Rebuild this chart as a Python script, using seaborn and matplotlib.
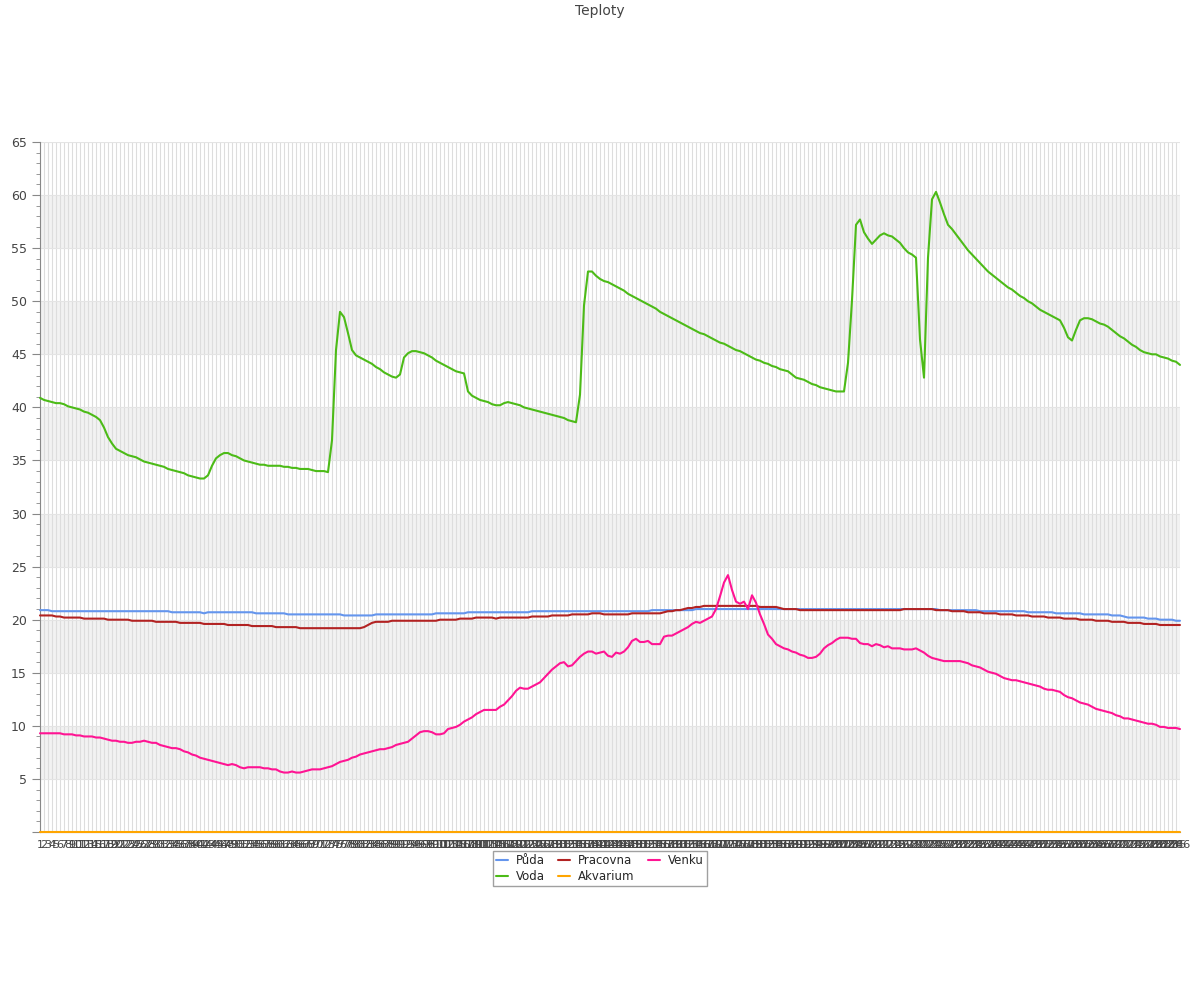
import matplotlib
matplotlib.use("Agg")
import matplotlib.pyplot as plt
from matplotlib.ticker import MultipleLocator
import seaborn as sns
import pandas as pd

# Teploty - hodnoty (286 mereni)
puda = [
    20.9, 20.9, 20.9, 20.8, 20.8, 20.8, 20.8, 20.8, 20.8, 20.8,
    20.8, 20.8, 20.8, 20.8, 20.8, 20.8, 20.8, 20.8, 20.8, 20.8,
    20.8, 20.8, 20.8, 20.8, 20.8, 20.8, 20.8, 20.8, 20.8, 20.8,
    20.8, 20.8, 20.8, 20.7, 20.7, 20.7, 20.7, 20.7, 20.7, 20.7,
    20.7, 20.6, 20.7, 20.7, 20.7, 20.7, 20.7, 20.7, 20.7, 20.7,
    20.7, 20.7, 20.7, 20.7, 20.6, 20.6, 20.6, 20.6, 20.6, 20.6,
    20.6, 20.6, 20.5, 20.5, 20.5, 20.5, 20.5, 20.5, 20.5, 20.5,
    20.5, 20.5, 20.5, 20.5, 20.5, 20.5, 20.4, 20.4, 20.4, 20.4,
    20.4, 20.4, 20.4, 20.4, 20.5, 20.5, 20.5, 20.5, 20.5, 20.5,
    20.5, 20.5, 20.5, 20.5, 20.5, 20.5, 20.5, 20.5, 20.5, 20.6,
    20.6, 20.6, 20.6, 20.6, 20.6, 20.6, 20.6, 20.7, 20.7, 20.7,
    20.7, 20.7, 20.7, 20.7, 20.7, 20.7, 20.7, 20.7, 20.7, 20.7,
    20.7, 20.7, 20.7, 20.8, 20.8, 20.8, 20.8, 20.8, 20.8, 20.8,
    20.8, 20.8, 20.8, 20.8, 20.8, 20.8, 20.8, 20.8, 20.8, 20.8,
    20.8, 20.8, 20.8, 20.8, 20.8, 20.8, 20.8, 20.8, 20.8, 20.8,
    20.8, 20.8, 20.8, 20.9, 20.9, 20.9, 20.9, 20.9, 20.9, 20.9,
    20.9, 20.9, 20.9, 20.9, 21.0, 21.0, 21.0, 21.0, 21.0, 21.0,
    21.0, 21.0, 21.0, 21.0, 21.0, 21.0, 21.0, 21.0, 21.0, 21.0,
    21.0, 21.0, 21.0, 21.0, 21.0, 21.0, 21.0, 21.0, 21.0, 21.0,
    21.0, 21.0, 21.0, 21.0, 21.0, 21.0, 21.0, 21.0, 21.0, 21.0,
    21.0, 21.0, 21.0, 21.0, 21.0, 21.0, 21.0, 21.0, 21.0, 21.0,
    21.0, 21.0, 21.0, 21.0, 21.0, 21.0, 21.0, 21.0, 21.0, 21.0,
    21.0, 21.0, 21.0, 21.0, 21.0, 20.9, 20.9, 20.9, 20.9, 20.9,
    20.9, 20.9, 20.9, 20.9, 20.9, 20.8, 20.8, 20.8, 20.8, 20.8,
    20.8, 20.8, 20.8, 20.8, 20.8, 20.8, 20.8, 20.7, 20.7, 20.7,
    20.7, 20.7, 20.7, 20.7, 20.6, 20.6, 20.6, 20.6, 20.6, 20.6,
    20.6, 20.5, 20.5, 20.5, 20.5, 20.5, 20.5, 20.5, 20.4, 20.4,
    20.4, 20.3, 20.2, 20.2, 20.2, 20.2, 20.2, 20.1, 20.1, 20.1,
    20.0, 20.0, 20.0, 20.0, 19.9, 19.9,
]

voda = [
    40.9, 40.7, 40.6, 40.5, 40.4, 40.4, 40.3, 40.1, 40.0, 39.9,
    39.8, 39.6, 39.5, 39.3, 39.1, 38.8, 38.1, 37.2, 36.6, 36.1,
    35.9, 35.7, 35.5, 35.4, 35.3, 35.1, 34.9, 34.8, 34.7, 34.6,
    34.5, 34.4, 34.2, 34.1, 34.0, 33.9, 33.8, 33.6, 33.5, 33.4,
    33.3, 33.3, 33.6, 34.5, 35.2, 35.5, 35.7, 35.7, 35.5, 35.4,
    35.2, 35.0, 34.9, 34.8, 34.7, 34.6, 34.6, 34.5, 34.5, 34.5,
    34.5, 34.4, 34.4, 34.3, 34.3, 34.2, 34.2, 34.2, 34.1, 34.0,
    34.0, 34.0, 33.9, 36.9, 45.4, 49.0, 48.5, 47.0, 45.4, 44.9,
    44.7, 44.5, 44.3, 44.1, 43.8, 43.6, 43.3, 43.1, 42.9, 42.8,
    43.1, 44.7, 45.1, 45.3, 45.3, 45.2, 45.1, 44.9, 44.7, 44.4,
    44.2, 44.0, 43.8, 43.6, 43.4, 43.3, 43.2, 41.5, 41.1, 40.9,
    40.7, 40.6, 40.5, 40.3, 40.2, 40.2, 40.4, 40.5, 40.4, 40.3,
    40.2, 40.0, 39.9, 39.8, 39.7, 39.6, 39.5, 39.4, 39.3, 39.2,
    39.1, 39.0, 38.8, 38.7, 38.6, 41.2, 49.6, 52.8, 52.8, 52.4,
    52.1, 51.9, 51.8, 51.6, 51.4, 51.2, 51.0, 50.7, 50.5, 50.3,
    50.1, 49.9, 49.7, 49.5, 49.3, 49.0, 48.8, 48.6, 48.4, 48.2,
    48.0, 47.8, 47.6, 47.4, 47.2, 47.0, 46.9, 46.7, 46.5, 46.3,
    46.1, 46.0, 45.8, 45.6, 45.4, 45.3, 45.1, 44.9, 44.7, 44.5,
    44.4, 44.2, 44.1, 43.9, 43.8, 43.6, 43.5, 43.4, 43.1, 42.8,
    42.7, 42.6, 42.4, 42.2, 42.1, 41.9, 41.8, 41.7, 41.6, 41.5,
    41.5, 41.5, 44.2, 50.1, 57.2, 57.7, 56.5, 55.9, 55.4, 55.8,
    56.2, 56.4, 56.2, 56.1, 55.8, 55.5, 55.0, 54.6, 54.4, 54.1,
    46.4, 42.8, 54.1, 59.6, 60.3, 59.3, 58.2, 57.2, 56.8, 56.3,
    55.8, 55.3, 54.8, 54.4, 54.0, 53.6, 53.2, 52.8, 52.5, 52.2,
    51.9, 51.6, 51.3, 51.1, 50.8, 50.5, 50.3, 50.0, 49.8, 49.5,
    49.2, 49.0, 48.8, 48.6, 48.4, 48.2, 47.5, 46.6, 46.3, 47.3,
    48.2, 48.4, 48.4, 48.3, 48.1, 47.9, 47.8, 47.6, 47.3, 47.0,
    46.7, 46.5, 46.2, 45.9, 45.7, 45.4, 45.2, 45.1, 45.0, 45.0,
    44.8, 44.7, 44.6, 44.4, 44.3, 44.0,
]

pracovna = [
    20.4, 20.4, 20.4, 20.4, 20.3, 20.3, 20.2, 20.2, 20.2, 20.2,
    20.2, 20.1, 20.1, 20.1, 20.1, 20.1, 20.1, 20.0, 20.0, 20.0,
    20.0, 20.0, 20.0, 19.9, 19.9, 19.9, 19.9, 19.9, 19.9, 19.8,
    19.8, 19.8, 19.8, 19.8, 19.8, 19.7, 19.7, 19.7, 19.7, 19.7,
    19.7, 19.6, 19.6, 19.6, 19.6, 19.6, 19.6, 19.5, 19.5, 19.5,
    19.5, 19.5, 19.5, 19.4, 19.4, 19.4, 19.4, 19.4, 19.4, 19.3,
    19.3, 19.3, 19.3, 19.3, 19.3, 19.2, 19.2, 19.2, 19.2, 19.2,
    19.2, 19.2, 19.2, 19.2, 19.2, 19.2, 19.2, 19.2, 19.2, 19.2,
    19.2, 19.3, 19.5, 19.7, 19.8, 19.8, 19.8, 19.8, 19.9, 19.9,
    19.9, 19.9, 19.9, 19.9, 19.9, 19.9, 19.9, 19.9, 19.9, 19.9,
    20.0, 20.0, 20.0, 20.0, 20.0, 20.1, 20.1, 20.1, 20.1, 20.2,
    20.2, 20.2, 20.2, 20.2, 20.1, 20.2, 20.2, 20.2, 20.2, 20.2,
    20.2, 20.2, 20.2, 20.3, 20.3, 20.3, 20.3, 20.3, 20.4, 20.4,
    20.4, 20.4, 20.4, 20.5, 20.5, 20.5, 20.5, 20.5, 20.6, 20.6,
    20.6, 20.5, 20.5, 20.5, 20.5, 20.5, 20.5, 20.5, 20.6, 20.6,
    20.6, 20.6, 20.6, 20.6, 20.6, 20.6, 20.7, 20.8, 20.8, 20.9,
    20.9, 21.0, 21.1, 21.1, 21.2, 21.2, 21.3, 21.3, 21.3, 21.3,
    21.3, 21.3, 21.3, 21.3, 21.3, 21.3, 21.3, 21.3, 21.3, 21.3,
    21.2, 21.2, 21.2, 21.2, 21.2, 21.1, 21.0, 21.0, 21.0, 21.0,
    20.9, 20.9, 20.9, 20.9, 20.9, 20.9, 20.9, 20.9, 20.9, 20.9,
    20.9, 20.9, 20.9, 20.9, 20.9, 20.9, 20.9, 20.9, 20.9, 20.9,
    20.9, 20.9, 20.9, 20.9, 20.9, 20.9, 21.0, 21.0, 21.0, 21.0,
    21.0, 21.0, 21.0, 21.0, 20.9, 20.9, 20.9, 20.9, 20.8, 20.8,
    20.8, 20.8, 20.7, 20.7, 20.7, 20.7, 20.6, 20.6, 20.6, 20.6,
    20.5, 20.5, 20.5, 20.5, 20.4, 20.4, 20.4, 20.4, 20.3, 20.3,
    20.3, 20.3, 20.2, 20.2, 20.2, 20.2, 20.1, 20.1, 20.1, 20.1,
    20.0, 20.0, 20.0, 20.0, 19.9, 19.9, 19.9, 19.9, 19.8, 19.8,
    19.8, 19.8, 19.7, 19.7, 19.7, 19.7, 19.6, 19.6, 19.6, 19.6,
    19.5, 19.5, 19.5, 19.5, 19.5, 19.5,
]

akvarium = [
    0.0, 0.0, 0.0, 0.0, 0.0, 0.0, 0.0, 0.0, 0.0, 0.0,
    0.0, 0.0, 0.0, 0.0, 0.0, 0.0, 0.0, 0.0, 0.0, 0.0,
    0.0, 0.0, 0.0, 0.0, 0.0, 0.0, 0.0, 0.0, 0.0, 0.0,
    0.0, 0.0, 0.0, 0.0, 0.0, 0.0, 0.0, 0.0, 0.0, 0.0,
    0.0, 0.0, 0.0, 0.0, 0.0, 0.0, 0.0, 0.0, 0.0, 0.0,
    0.0, 0.0, 0.0, 0.0, 0.0, 0.0, 0.0, 0.0, 0.0, 0.0,
    0.0, 0.0, 0.0, 0.0, 0.0, 0.0, 0.0, 0.0, 0.0, 0.0,
    0.0, 0.0, 0.0, 0.0, 0.0, 0.0, 0.0, 0.0, 0.0, 0.0,
    0.0, 0.0, 0.0, 0.0, 0.0, 0.0, 0.0, 0.0, 0.0, 0.0,
    0.0, 0.0, 0.0, 0.0, 0.0, 0.0, 0.0, 0.0, 0.0, 0.0,
    0.0, 0.0, 0.0, 0.0, 0.0, 0.0, 0.0, 0.0, 0.0, 0.0,
    0.0, 0.0, 0.0, 0.0, 0.0, 0.0, 0.0, 0.0, 0.0, 0.0,
    0.0, 0.0, 0.0, 0.0, 0.0, 0.0, 0.0, 0.0, 0.0, 0.0,
    0.0, 0.0, 0.0, 0.0, 0.0, 0.0, 0.0, 0.0, 0.0, 0.0,
    0.0, 0.0, 0.0, 0.0, 0.0, 0.0, 0.0, 0.0, 0.0, 0.0,
    0.0, 0.0, 0.0, 0.0, 0.0, 0.0, 0.0, 0.0, 0.0, 0.0,
    0.0, 0.0, 0.0, 0.0, 0.0, 0.0, 0.0, 0.0, 0.0, 0.0,
    0.0, 0.0, 0.0, 0.0, 0.0, 0.0, 0.0, 0.0, 0.0, 0.0,
    0.0, 0.0, 0.0, 0.0, 0.0, 0.0, 0.0, 0.0, 0.0, 0.0,
    0.0, 0.0, 0.0, 0.0, 0.0, 0.0, 0.0, 0.0, 0.0, 0.0,
    0.0, 0.0, 0.0, 0.0, 0.0, 0.0, 0.0, 0.0, 0.0, 0.0,
    0.0, 0.0, 0.0, 0.0, 0.0, 0.0, 0.0, 0.0, 0.0, 0.0,
    0.0, 0.0, 0.0, 0.0, 0.0, 0.0, 0.0, 0.0, 0.0, 0.0,
    0.0, 0.0, 0.0, 0.0, 0.0, 0.0, 0.0, 0.0, 0.0, 0.0,
    0.0, 0.0, 0.0, 0.0, 0.0, 0.0, 0.0, 0.0, 0.0, 0.0,
    0.0, 0.0, 0.0, 0.0, 0.0, 0.0, 0.0, 0.0, 0.0, 0.0,
    0.0, 0.0, 0.0, 0.0, 0.0, 0.0, 0.0, 0.0, 0.0, 0.0,
    0.0, 0.0, 0.0, 0.0, 0.0, 0.0, 0.0, 0.0, 0.0, 0.0,
    0.0, 0.0, 0.0, 0.0, 0.0, 0.0,
]

venku = [
    9.3, 9.3, 9.3, 9.3, 9.3, 9.3, 9.2, 9.2, 9.2, 9.1,
    9.1, 9.0, 9.0, 9.0, 8.9, 8.9, 8.8, 8.7, 8.6, 8.6,
    8.5, 8.5, 8.4, 8.4, 8.5, 8.5, 8.6, 8.5, 8.4, 8.4,
    8.2, 8.1, 8.0, 7.9, 7.9, 7.8, 7.6, 7.5, 7.3, 7.2,
    7.0, 6.9, 6.8, 6.7, 6.6, 6.5, 6.4, 6.3, 6.4, 6.3,
    6.1, 6.0, 6.1, 6.1, 6.1, 6.1, 6.0, 6.0, 5.9, 5.9,
    5.7, 5.6, 5.6, 5.7, 5.6, 5.6, 5.7, 5.8, 5.9, 5.9,
    5.9, 6.0, 6.1, 6.2, 6.4, 6.6, 6.7, 6.8, 7.0, 7.1,
    7.3, 7.4, 7.5, 7.6, 7.7, 7.8, 7.8, 7.9, 8.0, 8.2,
    8.3, 8.4, 8.5, 8.8, 9.1, 9.4, 9.5, 9.5, 9.4, 9.2,
    9.2, 9.3, 9.7, 9.8, 9.9, 10.1, 10.4, 10.6, 10.8, 11.1,
    11.3, 11.5, 11.5, 11.5, 11.5, 11.8, 12.0, 12.4, 12.8, 13.3,
    13.6, 13.5, 13.5, 13.7, 13.9, 14.1, 14.5, 14.9, 15.3, 15.6,
    15.9, 16.0, 15.6, 15.7, 16.1, 16.5, 16.8, 17.0, 17.0, 16.8,
    16.9, 17.0, 16.6, 16.5, 16.9, 16.8, 17.0, 17.4, 18.0, 18.2,
    17.9, 17.9, 18.0, 17.7, 17.7, 17.7, 18.4, 18.5, 18.5, 18.7,
    18.9, 19.1, 19.3, 19.6, 19.8, 19.7, 19.9, 20.1, 20.3, 21.0,
    22.2, 23.5, 24.2, 22.8, 21.7, 21.5, 21.7, 21.0, 22.3, 21.6,
    20.5, 19.6, 18.6, 18.2, 17.7, 17.5, 17.3, 17.2, 17.0, 16.9,
    16.7, 16.6, 16.4, 16.4, 16.5, 16.8, 17.3, 17.6, 17.8, 18.1,
    18.3, 18.3, 18.3, 18.2, 18.2, 17.8, 17.7, 17.7, 17.5, 17.7,
    17.6, 17.4, 17.5, 17.3, 17.3, 17.3, 17.2, 17.2, 17.2, 17.3,
    17.1, 16.9, 16.6, 16.4, 16.3, 16.2, 16.1, 16.1, 16.1, 16.1,
    16.1, 16.0, 15.9, 15.7, 15.6, 15.5, 15.3, 15.1, 15.0, 14.9,
    14.7, 14.5, 14.4, 14.3, 14.3, 14.2, 14.1, 14.0, 13.9, 13.8,
    13.7, 13.5, 13.4, 13.4, 13.3, 13.2, 12.9, 12.7, 12.6, 12.4,
    12.2, 12.1, 12.0, 11.8, 11.6, 11.5, 11.4, 11.3, 11.2, 11.0,
    10.9, 10.7, 10.7, 10.6, 10.5, 10.4, 10.3, 10.2, 10.2, 10.1,
    9.9, 9.9, 9.8, 9.8, 9.8, 9.7,
]

mereni = list(range(1, len(voda) + 1))

series_names = ['Půda', 'Voda', 'Pracovna', 'Akvarium', 'Venku']
series_values = [puda, voda, pracovna, akvarium, venku]
colors = {'Půda': '#6495ed', 'Voda': '#4cbb17', 'Pracovna': '#b22222',
          'Akvarium': '#ffa500', 'Venku': '#ff1493'}

# long-form table pro seaborn
rows = []
for name, vals in zip(series_names, series_values):
    for i, v in enumerate(vals):
        rows.append({'idx': i, 'teplota': v, 'cidlo': name})
df = pd.DataFrame(rows)

sns.set_style('white')
plt.rcParams['font.family'] = ['DejaVu Sans']

fig = plt.figure(figsize=(12, 10), dpi=100)
ax = fig.add_axes([40 / 1200, 1 - 832 / 1000, 1140 / 1200, 690 / 1000])

# pruhy pozadi
for lo in range(5, 60, 10):
    ax.axhspan(lo, lo + 5, color='#f2f2f2', zorder=0, lw=0)

sns.lineplot(data=df, x='idx', y='teplota', hue='cidlo', hue_order=series_names,
             palette=colors, linewidth=1.5, ax=ax, legend=True, estimator=None)
for line in ax.lines:
    line.set_clip_on(False)
    line.set_zorder(3)

ax.set_xlim(0, len(voda) - 1)
ax.set_ylim(0, 65)
ax.set_xticks(range(len(mereni)))
ax.set_xticklabels([str(m) for m in mereni], fontsize=8, color='#444444')
ax.tick_params(axis='x', length=0, pad=6)
ax.yaxis.set_major_locator(MultipleLocator(5))
ax.yaxis.set_minor_locator(MultipleLocator(1))
ax.set_yticks(range(0, 66, 5))
ax.set_yticklabels([''] + [str(v) for v in range(5, 66, 5)], fontsize=9, color='#444444')
ax.tick_params(axis='y', which='major', length=6, color='#888888', left=True)
ax.tick_params(axis='y', which='minor', length=3, color='#888888', left=True)

ax.grid(True, axis='x', color='#dddddd', linewidth=0.8)
ax.grid(True, axis='y', which='major', color='#e4e4e4', linewidth=0.8)
ax.set_axisbelow(True)
ax.set_xlabel('')
ax.set_ylabel('')

for s in ['top', 'right']:
    ax.spines[s].set_visible(False)
ax.spines['left'].set_color('#888888')
ax.spines['bottom'].set_color('#888888')

handles, labels = ax.get_legend_handles_labels()
ax.legend(handles, labels, ncol=3, loc='upper center',
          bbox_to_anchor=(0.5, 0.155), bbox_transform=fig.transFigure,
          fontsize=8.5, frameon=True, fancybox=False, edgecolor='#888888',
          handlelength=1.0, handletextpad=0.7, columnspacing=1.1,
          borderpad=0.25, labelspacing=0.3)

fig.text(0.5, 0.989, 'Teploty', ha='center', va='center', fontsize=10, color='#444444')

fig.savefig('out.png', dpi=100)
